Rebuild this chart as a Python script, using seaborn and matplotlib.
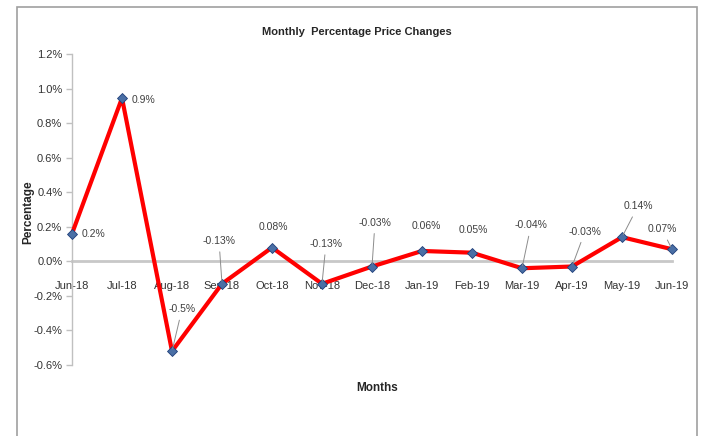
import numpy as np
import pandas as pd
import matplotlib
matplotlib.use("Agg")
import matplotlib.pyplot as plt
import seaborn as sns
from matplotlib.patches import Rectangle
from matplotlib.ticker import FuncFormatter

# -----------------------------
# data
# -----------------------------
months = ["Jun-18", "Jul-18", "Aug-18", "Sep-18", "Oct-18", "Nov-18", "Dec-18",
          "Jan-19", "Feb-19", "Mar-19", "Apr-19", "May-19", "Jun-19"]
pct_change = [0.16, 0.945, -0.52, -0.13, 0.08, -0.13, -0.03,
              0.06, 0.05, -0.04, -0.03, 0.14, 0.07]
point_labels = ["0.2%", "0.9%", "-0.5%", "-0.13%", "0.08%", "-0.13%", "-0.03%",
                "0.06%", "0.05%", "-0.04%", "-0.03%", "0.14%", "0.07%"]
y_ticks = [-0.6, -0.4, -0.2, 0.0, 0.2, 0.4, 0.6, 0.8, 1.0, 1.2]

df = pd.DataFrame({"pos": np.arange(len(months)), "month": months, "pct": pct_change})

# label placement (pixel offsets from each point) and whether a leader line is drawn
label_offsets = [(21, 0), (21, -2), (10, 42), (-3, 43), (1, 21), (4, 40), (3, 44),
                 (4, 25), (1, 23), (9, 43), (13, 35), (16, 31), (-10, 20)]
leaders = [False, False, True, True, False, True, True,
           False, False, True, True, True, True]

# -----------------------------
# style
# -----------------------------
sns.set_style("white")
plt.rcParams["font.family"] = ["Liberation Sans", "DejaVu Sans"]

fig = plt.figure(figsize=(7.02, 4.36), dpi=100)
ax = fig.add_axes([72 / 702, 1 - 365 / 436, 600 / 702, 311 / 436])

# outer chart border
fig.patches.append(Rectangle((17 / 702, -0.05), 680 / 702, 1.05 - 7 / 436,
                             transform=fig.transFigure, fill=False,
                             edgecolor="#a0a0a0", lw=1.2, clip_on=False))

sns.lineplot(data=df, x="pos", y="pct", ax=ax, color="#ff0000", lw=3,
             marker="D", markersize=5, markerfacecolor="#4a6fa5",
             markeredgecolor="#1f3f7a", markeredgewidth=0.6, clip_on=False,
             zorder=3)

ax.set_xlim(0, len(months) - 1)
ax.set_ylim(-0.6, 1.2)
ax.set_yticks(y_ticks)
ax.yaxis.set_major_formatter(FuncFormatter(lambda v, _: f"{v:.1f}%"))
ax.set_xticks(df["pos"])
ax.set_xticklabels(months)

ax.spines["top"].set_visible(False)
ax.spines["right"].set_visible(False)
ax.spines["bottom"].set_position(("data", 0))
ax.spines["bottom"].set_color("#c8c8c8")
ax.spines["bottom"].set_linewidth(2)
ax.spines["bottom"].set_zorder(1)
ax.spines["left"].set_color("#c0c0c0")
ax.spines["left"].set_linewidth(1)

ax.tick_params(axis="y", which="major", left=True, length=4, width=1,
               color="#c0c0c0", labelsize=8, labelcolor="#333333", pad=3)
ax.tick_params(axis="x", which="major", bottom=False, labelsize=8,
               labelcolor="#333333", pad=11)

# data labels
for i, (x, y) in enumerate(zip(df["pos"], df["pct"])):
    dx, dy = label_offsets[i]
    ap = dict(arrowstyle="-", color="#8c8c8c", lw=0.7, shrinkA=2, shrinkB=2) if leaders[i] else None
    ax.annotate(point_labels[i], xy=(x, y), xytext=(dx, dy), textcoords="offset pixels",
                ha="center", va="center", fontsize=7.5, color="#404040",
                arrowprops=ap)

ax.set_xlabel("")
ax.set_ylabel("")
fig.text(357 / 702, 1 - 32 / 436, "Monthly  Percentage Price Changes",
         ha="center", va="center", fontsize=8, fontweight="bold")
fig.text(28 / 702, 1 - 212 / 436, "Percentage", rotation=90,
         ha="center", va="center", fontsize=8.5, fontweight="bold")
fig.text(377 / 702, 1 - 388 / 436, "Months",
         ha="center", va="center", fontsize=8.5, fontweight="bold")

plt.savefig("out.png", dpi=100)
